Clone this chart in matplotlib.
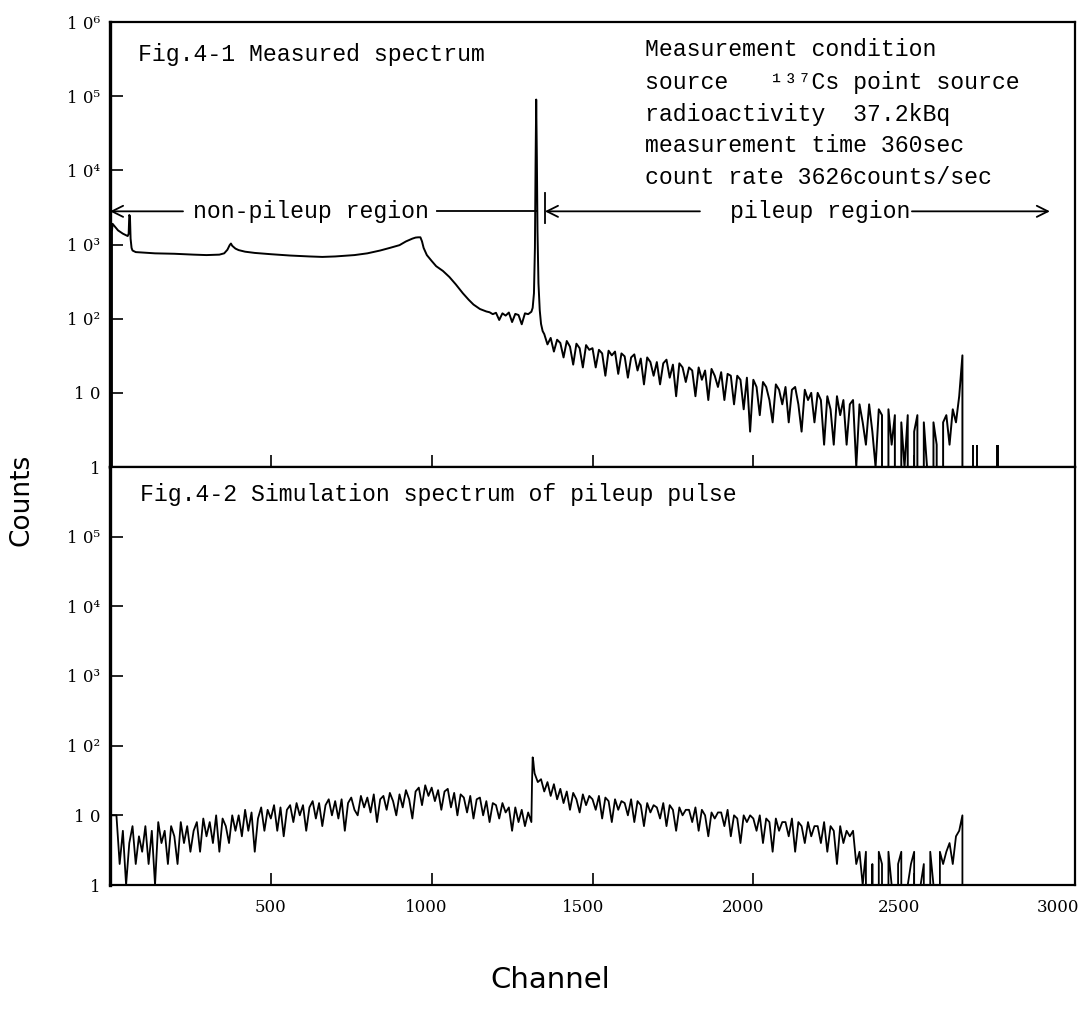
import numpy as np
import matplotlib
matplotlib.use("Agg")
import matplotlib.pyplot as plt
from matplotlib.ticker import FixedLocator, FixedFormatter, NullLocator
from matplotlib.transforms import ScaledTranslation

# --- Fig.4-1 measured 137Cs spectrum (counts per channel) ---
# low-energy part, Compton continuum and edge
meas_head_ch = [0, 5, 6, 8, 15, 25, 40, 55, 58, 60, 62, 64, 67, 70, 80, 100, 140,
                200, 260, 300, 340, 355, 365, 372, 376, 380, 390, 400, 420, 450,
                500, 560, 620, 660, 700, 760, 800, 840, 870, 900, 920, 940, 950,
                958, 965, 970, 975, 985, 1000, 1014, 1035, 1055, 1075, 1097, 1115,
                1130, 1150, 1170]
meas_head = [0, 0, 1500, 1900, 1750, 1550, 1400, 1300, 1400, 2500, 2400, 1200, 900,
             830, 790, 780, 760, 750, 730, 720, 730, 760, 850, 980, 1030, 960, 880,
             840, 800, 770, 740, 710, 690, 680, 690, 720, 760, 830, 900, 980, 1100,
             1200, 1240, 1250, 1250, 1100, 900, 720, 600, 510, 440, 365, 290, 220,
             180, 155, 135, 125]

# valley below the photopeak (every 10 ch)
meas_valley_ch = np.arange(1180, 1311, 10)
meas_valley = [122, 115, 120, 96, 118, 110, 121, 90, 116, 112, 84, 118, 115, 124]

# 662 keV photopeak
meas_peak_ch = [1314, 1318, 1321, 1323, 1325, 1327, 1329, 1332, 1336, 1340, 1345]
meas_peak = [140, 220, 900, 12000, 90000, 15000, 1500, 300, 130, 85, 68]

# pileup tail (every 10 ch), sum peak near 2650
meas_tail_ch = np.arange(1350, 2661, 10)
meas_tail = [62, 45, 55, 36, 52,
             47, 30, 50, 42, 24, 46, 40, 22, 44, 38,
             40, 22, 38, 34, 17, 37, 32, 36, 18, 34,
             31, 16, 30, 33, 20, 29, 13, 30, 26, 17,
             26, 13, 25, 28, 16, 24, 9, 25, 22, 14,
             22, 20, 9, 22, 15, 20, 8, 21, 17, 12,
             19, 8, 18, 17, 7, 17, 15, 6, 16, 3,
             15, 12, 5, 14, 12, 8, 4, 13, 11, 7,
             12, 4, 11, 12, 7, 3, 11, 8, 10, 4,
             10, 8, 2, 9, 6, 2, 9, 5, 8, 2,
             7, 8, 1, 7, 4, 2, 7, 3, 1, 6,
             5, 0, 6, 2, 5, 0, 4, 1, 5, 0,
             3, 5, 0, 4, 1, 0, 4, 2, 0, 4,
             5, 2, 6, 4, 9, 32, 0]

# single counts beyond the sum peak
meas_stray_ch = [2683, 2695, 2758, 2762]
meas_stray = [2, 2, 2, 2]

# --- Fig.4-2 simulated pileup spectrum ---
sim_a_ch = np.arange(0, 1311, 10)
sim_a = [10, 10, 10, 2, 6, 1, 4, 7, 2, 5,
         3, 7, 2, 6, 1, 8, 4, 6, 2, 7,
         5, 2, 8, 4, 7, 3, 6, 8, 3, 9,
         5, 8, 4, 10, 3, 9, 7, 4, 10, 6,
         10, 5, 12, 6, 11, 3, 9, 13, 6, 12,
         9, 14, 6, 13, 5, 12, 14, 8, 15, 10,
         14, 6, 13, 16, 9, 15, 7, 14, 17, 10,
         16, 9, 17, 6, 15, 18, 12, 10, 19, 13,
         18, 11, 20, 8, 17, 19, 12, 21, 16, 10,
         20, 13, 23, 17, 9, 22, 25, 14, 27, 19,
         25, 16, 23, 12, 22, 24, 13, 21, 10, 20,
         18, 11, 19, 9, 17, 18, 10, 16, 8, 15,
         14, 9, 15, 11, 13, 6, 13, 8, 12, 7,
         11, 8]
sim_step_ch = [1312, 1314, 1316, 1318]
sim_step = [30, 68, 60, 48]
sim_b_ch = np.arange(1320, 2651, 10)
sim_b = [40, 30, 33, 22, 30, 19, 28, 17,
         24, 15, 22, 12, 21, 17, 11, 20, 14, 19,
         17, 12, 19, 9, 18, 16, 8, 17, 12, 16,
         15, 10, 17, 8, 16, 14, 7, 15, 11, 14,
         13, 9, 15, 7, 14, 12, 6, 13, 10, 12,
         12, 8, 13, 6, 12, 10, 5, 11, 9, 11,
         11, 7, 12, 5, 10, 9, 4, 10, 8, 10,
         9, 6, 10, 4, 9, 8, 3, 9, 6, 8,
         8, 5, 9, 3, 8, 7, 4, 8, 5, 7,
         7, 4, 8, 3, 7, 6, 2, 7, 4, 6,
         5, 6, 2, 3, 1, 3, 0, 2, 0, 3,
         2, 0, 3, 1, 0, 2, 3, 0, 1, 2,
         3, 0, 1, 2, 0, 3, 1, 0, 3, 2,
         3, 4, 2, 5, 6, 10]
sim_end_ch = [2655]
sim_end = [0]

# axis ticks and labels
x_ticks = [500, 1000, 1500, 2000, 2500, 3000]
x_labels = ["500", "1000", "1500", "2000", "2500", "3000"]
x_label_shift = [0, -5, -9, -10, -15, -17]  # pixels, labels sit left of their ticks
upper_y_ticks = [1, 1e1, 1e2, 1e3, 1e4, 1e5, 1e6]
upper_y_labels = ["1", "1 0", "1 0²", "1 0³", "1 0⁴", "1 0⁵", "1 0⁶"]
lower_y_ticks = [1, 1e1, 1e2, 1e3, 1e4, 1e5]
lower_y_labels = ["1", "1 0", "1 0²", "1 0³", "1 0⁴", "1 0⁵"]

cond_lines = ["Measurement condition",
              "source   ¹³⁷Cs point source",
              "radioactivity  37.2kBq",
              "measurement time 360sec",
              "count rate 3626counts/sec"]

MONO = ["Liberation Mono", "DejaVu Sans Mono"]
FS = 16.7
W, H = 1087, 1016

fig = plt.figure(figsize=(W / 100, H / 100), dpi=100)
ax1 = fig.add_axes([110 / W, 1 - 467 / H, 965 / W, 445 / H])
ax2 = fig.add_axes([110 / W, 1 - 885 / H, 965 / W, 418 / H])

for ax in (ax1, ax2):
    ax.set_yscale("log", nonpositive="clip")
    ax.set_xlim(0, 3000)
    ax.set_ylim(1, 1e6)
    ax.yaxis.set_minor_locator(NullLocator())
    ax.xaxis.set_major_locator(FixedLocator(x_ticks))
    ax.tick_params(direction="in", length=9, width=1.2, top=False, right=False,
                   labelsize=12, labelfontfamily="DejaVu Serif")
    ax.tick_params(axis="y", pad=7)
    ax.tick_params(axis="x", pad=10)
    for s in ax.spines.values():
        s.set_linewidth(1.6)
    ax.spines["left"].set_linewidth(2.4)

ax1.yaxis.set_major_locator(FixedLocator(upper_y_ticks))
ax1.yaxis.set_major_formatter(FixedFormatter(upper_y_labels))
ax1.tick_params(axis="x", labelbottom=False)
ax2.yaxis.set_major_locator(FixedLocator(lower_y_ticks))
ax2.yaxis.set_major_formatter(FixedFormatter(lower_y_labels))
ax2.xaxis.set_major_formatter(FixedFormatter(x_labels))
for lab, dx in zip(ax2.get_xticklabels(), x_label_shift):
    lab.set_transform(lab.get_transform() + ScaledTranslation(dx / 100, 0, fig.dpi_scale_trans))

# measured spectrum
meas_ch = np.concatenate([meas_head_ch, meas_valley_ch, meas_peak_ch, meas_tail_ch])
meas = np.concatenate([meas_head, meas_valley, meas_peak, meas_tail])
ax1.plot(meas_ch, meas, color="black", lw=1.4)
ax1.vlines(meas_stray_ch, 1, meas_stray, color="black", lw=1.4)

# simulated spectrum
sim_ch = np.concatenate([sim_a_ch, sim_step_ch, sim_b_ch, sim_end_ch])
sim = np.concatenate([sim_a, sim_step, sim_b, sim_end])
ax2.plot(sim_ch, sim, color="black", lw=1.3)

# region arrows
arrow_y = 2800
arr = dict(arrowstyle="->", lw=1.3, color="black", shrinkA=0, shrinkB=0,
           mutation_scale=20)
ax1.annotate("", xy=(0, arrow_y), xytext=(227, arrow_y), arrowprops=arr)
ax1.plot([1017, 1327], [arrow_y, arrow_y], color="black", lw=1.3)
ax1.text(625, arrow_y, "non-pileup region", family=MONO, fontsize=FS,
         ha="center", va="center")
ax1.annotate("", xy=(1352, arrow_y), xytext=(1834, arrow_y), arrowprops=arr)
ax1.plot([1352, 1352], [1950, 4900], color="black", lw=1.3)
ax1.text(2207, arrow_y, "pileup region", family=MONO, fontsize=FS,
         ha="center", va="center")
ax1.annotate("", xy=(2922, arrow_y), xytext=(2493, arrow_y), arrowprops=arr)

# panel titles and measurement conditions
fig.text(138 / W, 1 - 55 / H, "Fig.4-1 Measured spectrum", family=MONO,
         fontsize=FS, va="center")
fig.text(140 / W, 1 - 495 / H, "Fig.4-2 Simulation spectrum of pileup pulse",
         family=MONO, fontsize=FS, va="center")
for i, line in enumerate(cond_lines):
    fig.text(645 / W, 1 - (50 + 32 * i) / H, line, family=MONO, fontsize=FS,
             va="center")

fig.text(22 / W, 1 - 500 / H, "Counts", rotation=90, fontsize=19,
         ha="center", va="center")
fig.text(550 / W, 1 - 980 / H, "Channel", fontsize=21, ha="center", va="center")

fig.savefig("out.png", dpi=100)
